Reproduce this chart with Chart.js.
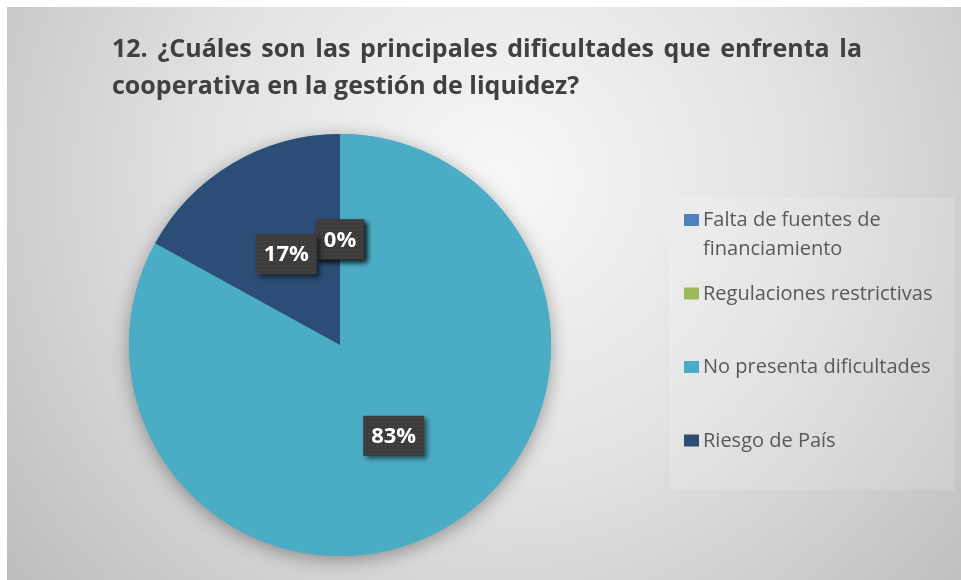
<!DOCTYPE html>
<html lang="es">
<head>
<meta charset="utf-8">
<title>Dificultades en la gestión de liquidez</title>
<script src="https://cdn.jsdelivr.net/npm/chart.js@4.4.1/dist/chart.umd.min.js"></script>
<style>
  html, body { margin: 0; padding: 0; background: #fff; }
  canvas { display: block; }
</style>
</head>
<body>
<canvas id="grafico" width="961" height="580"></canvas>
<script>
// datos de la pregunta 12
const tituloLineas = [
  "12. ¿Cuáles son las principales dificultades que enfrenta la",
  "cooperativa en la gestión de liquidez?",
];
const etiquetas = [
  "Falta de fuentes de financiamiento",
  "Regulaciones restrictivas",
  "No presenta dificultades",
  "Riesgo de País",
];
const valores = [0, 0, 83, 17];
const colores = ["#4f81bd", "#9bbb59", "#4bacc6", "#2c4d75"];

// trama punteada de las cajas de porcentaje
function crearTrama(ctx) {
  let c = document.createElement("canvas");
  c.width = 4;
  c.height = 4;
  let t = c.getContext("2d");
  t.fillStyle = "#3d3b3b";
  t.fillRect(0, 0, 4, 4);
  t.fillStyle = "#565454";
  t.fillRect(1, 1, 1, 1);
  return ctx.createPattern(c, "repeat");
}

// fondo degradado y caja de la leyenda
const fondo = {
  id: "fondo",
  beforeDraw(chart) {
    let ctx = chart.ctx;
    ctx.save();
    ctx.fillStyle = "#ffffff";
    ctx.fillRect(0, 0, chart.width, chart.height);
    let g = ctx.createRadialGradient(500, 180, 20, 500, 180, 640);
    g.addColorStop(0, "#f6f6f6");
    g.addColorStop(0.45, "#e2e2e2");
    g.addColorStop(1, "#bcbcbc");
    ctx.fillStyle = g;
    ctx.fillRect(7, 7, chart.width - 7, chart.height - 7);
    ctx.fillStyle = "rgba(255,255,255,0.14)";
    ctx.fillRect(670, 198, 285, 292);
    ctx.restore();
  },
};

// titulo justificado en la primera linea
const titulo = {
  id: "titulo",
  afterDraw(chart) {
    let ctx = chart.ctx;
    let x0 = 112;
    let ancho = 750;
    ctx.save();
    ctx.font = "bold 25px 'Open Sans'";
    ctx.fillStyle = "#404040";
    ctx.textBaseline = "alphabetic";
    tituloLineas.forEach(function (linea, i) {
      let y = 57 + i * 37;
      let palabras = linea.split(" ");
      if (i < tituloLineas.length - 1) {
        let total = palabras.reduce((s, p) => s + ctx.measureText(p).width, 0);
        let hueco = (ancho - total) / (palabras.length - 1);
        let x = x0;
        palabras.forEach(function (p) {
          ctx.fillText(p, x, y);
          x += ctx.measureText(p).width + hueco;
        });
      } else {
        ctx.fillText(linea, x0, y);
      }
    });
    ctx.restore();
  },
};

// leyenda a la derecha
const leyenda = {
  id: "leyenda",
  afterDraw(chart) {
    let ctx = chart.ctx;
    ctx.save();
    ctx.font = "20px 'Open Sans'";
    ctx.textBaseline = "alphabetic";
    etiquetas.forEach(function (texto, i) {
      let base = 226 + i * 73.5;
      ctx.fillStyle = colores[i];
      ctx.fillRect(684, base - 12, 15, 12);
      // partir el texto si no cabe
      let lineas = [];
      let actual = "";
      texto.split(" ").forEach(function (p) {
        let prueba = actual ? actual + " " + p : p;
        if (ctx.measureText(prueba).width > 252 && actual) {
          lineas.push(actual);
          actual = p;
        } else {
          actual = prueba;
        }
      });
      lineas.push(actual);
      ctx.fillStyle = "#595959";
      lineas.forEach(function (l, j) {
        ctx.fillText(l, 703, base + j * 29);
      });
    });
    ctx.restore();
  },
};

// sombra suave bajo el circulo
const sombra = {
  id: "sombra",
  beforeDatasetsDraw(chart) {
    let ctx = chart.ctx;
    let arco = chart.getDatasetMeta(0).data[0];
    ctx.save();
    ctx.shadowColor = "rgba(0,0,0,0.35)";
    ctx.shadowBlur = 18;
    ctx.shadowOffsetY = 4;
    ctx.beginPath();
    ctx.arc(arco.x, arco.y, arco.outerRadius, 0, Math.PI * 2);
    ctx.fillStyle = colores[2];
    ctx.fill();
    ctx.restore();
  },
};

// cajas con el porcentaje de cada sector
const porcentajes = {
  id: "porcentajes",
  afterDatasetsDraw(chart) {
    let ctx = chart.ctx;
    let trama = crearTrama(ctx);
    let total = valores.reduce((a, b) => a + b, 0);
    let meta = chart.getDatasetMeta(0);
    ctx.save();
    ctx.font = "bold 22px 'Open Sans'";
    ctx.textAlign = "center";
    ctx.textBaseline = "middle";
    meta.data.forEach(function (arco, i) {
      let p = arco.getCenterPoint();
      let texto = Math.round((valores[i] / total) * 100) + "%";
      let w = ctx.measureText(texto).width + 16;
      let h = 40;
      ctx.shadowColor = "rgba(0,0,0,0.55)";
      ctx.shadowBlur = 5;
      ctx.shadowOffsetX = 3;
      ctx.shadowOffsetY = 3;
      ctx.fillStyle = trama;
      ctx.fillRect(p.x - w / 2, p.y - h / 2, w, h);
      ctx.shadowColor = "transparent";
      ctx.fillStyle = "#ffffff";
      ctx.fillText(texto, p.x, p.y + 1);
    });
    ctx.restore();
  },
};

new Chart(document.getElementById("grafico"), {
  type: "pie",
  data: {
    labels: etiquetas,
    datasets: [
      {
        data: valores,
        backgroundColor: colores,
        borderWidth: 0,
      },
    ],
  },
  options: {
    responsive: false,
    animation: false,
    layout: {
      padding: { left: 129, right: 410, top: 134, bottom: 24 },
    },
    plugins: {
      legend: { display: false },
      tooltip: { enabled: false },
      title: { display: false },
    },
  },
  plugins: [fondo, sombra, porcentajes, titulo, leyenda],
});
</script>
</body>
</html>
